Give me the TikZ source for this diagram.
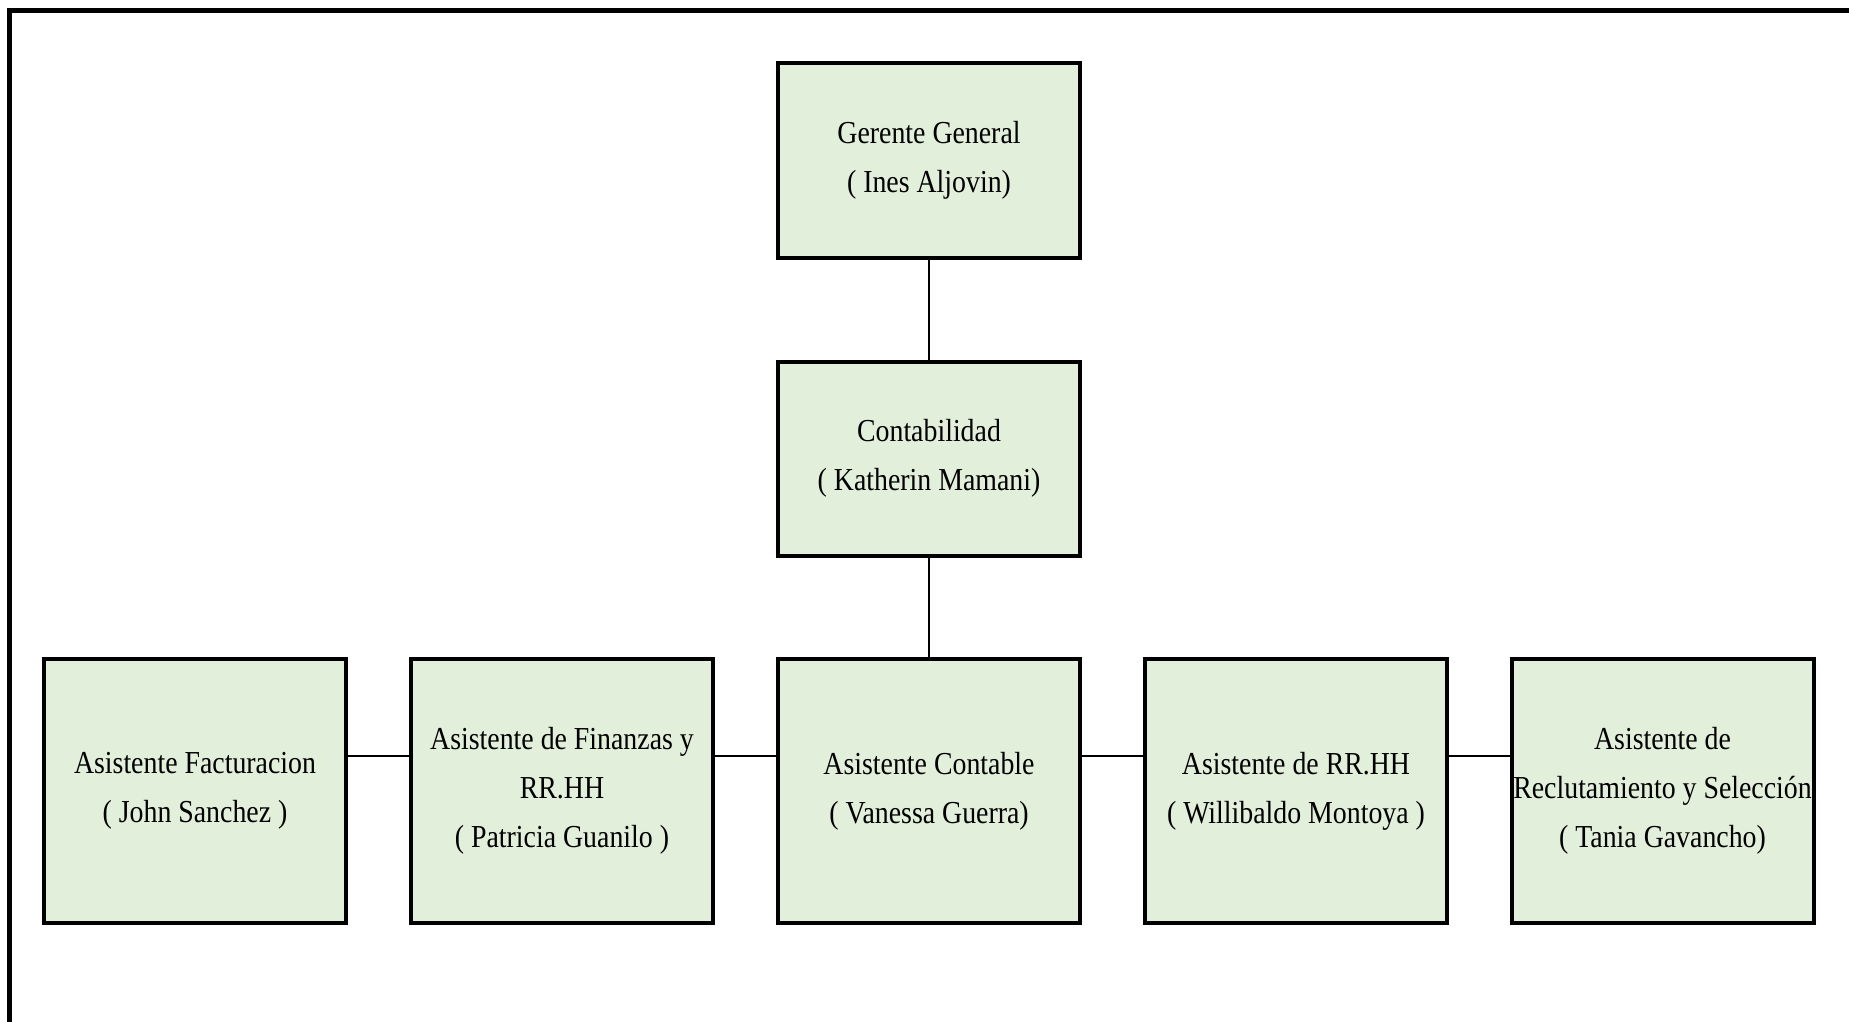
\documentclass[tikz,border=0pt]{standalone}
\usepackage{fontspec}
\setmainfont[FakeStretch=0.87]{Liberation Serif}

\begin{document}
\begin{tikzpicture}[x=0.5pt,y=0.5pt,yscale=-1,
  cargo/.style={draw, line width=2pt, fill={rgb, 255:red, 226; green, 239; blue, 218 }, minimum width=151pt, inner sep=0pt, align=center, font=\fontsize{16}{24.5}\selectfont, execute at begin node={\rule{0pt}{22pt}}},
  cargo alto/.style={cargo, minimum height=97pt},
  cargo bajo/.style={cargo, minimum height=132pt},
  enlace/.style={line width=1pt}]
\useasboundingbox (0,0) rectangle (1849,1022);

%Shape: Frame
\draw [line width=2.2pt] (9.5,1040) -- (9.5,10.5) -- (1870,10.5);

%Shape: Rectangle (top)
\node [cargo alto] (gerente) at (929,160.5) {Gerente General\\( Ines Aljovin)};
\node [cargo alto] (conta) at (929,458.5) {Contabilidad\\( Katherin Mamani)};

%Shape: Rectangle (bottom row)
\node [cargo bajo] (factura) at (195,791) {Asistente Facturacion\\( John Sanchez )};
\node [cargo bajo] (finanzas) at (562,791) {Asistente de Finanzas y\\RR.HH\\( Patricia Guanilo )};
\node [cargo bajo] (asistconta) at (929,791) {Asistente Contable\\( Vanessa Guerra)};
\node [cargo bajo] (rrhh) at (1296,791) {Asistente de RR.HH\\( Willibaldo Montoya )};
\node [cargo bajo] (reclu) at (1662.5,791) {Asistente de\\Reclutamiento y Selección\\( Tania Gavancho)};

%Straight Lines
\coordinate (fila) at (0,756);
\draw [enlace] (gerente) -- (conta);
\draw [enlace] (conta) -- (asistconta);
\draw [enlace] (factura.east |- fila) -- (finanzas.west |- fila);
\draw [enlace] (finanzas.east |- fila) -- (asistconta.west |- fila);
\draw [enlace] (asistconta.east |- fila) -- (rrhh.west |- fila);
\draw [enlace] (rrhh.east |- fila) -- (reclu.west |- fila);

\end{tikzpicture}
\end{document}
